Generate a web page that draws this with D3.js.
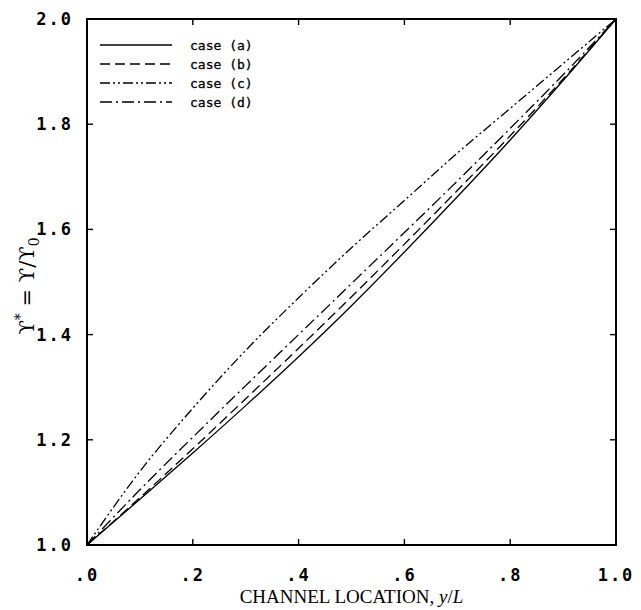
<!DOCTYPE html>
<html>
<head>
<meta charset="utf-8">
<script src="https://cdn.jsdelivr.net/npm/d3@7"></script>
<style>
  body { margin: 0; background: #fff; }
  svg { display: block; }
</style>
</head>
<body>
<svg id="chart"></svg>
<script>
// data
var xs     = [0.0, 0.1, 0.2, 0.3, 0.4, 0.5, 0.6, 0.7, 0.8, 0.9, 1.0];
var caseA  = [1.0, 1.087, 1.175, 1.265, 1.358, 1.455, 1.557, 1.662, 1.77, 1.883, 2.0];
var caseB  = [1.0, 1.09, 1.183, 1.278, 1.374, 1.472, 1.572, 1.674, 1.778, 1.886, 2.0];
var caseC  = [1.0, 1.14, 1.26, 1.37, 1.47, 1.565, 1.655, 1.745, 1.83, 1.915, 2.0];
var caseD  = [1.0, 1.105, 1.205, 1.303, 1.40, 1.497, 1.594, 1.692, 1.792, 1.894, 2.0];
var xTicks = [0, 0.2, 0.4, 0.6, 0.8, 1.0];
var xTickLabels = [".0", ".2", ".4", ".6", ".8", "1.0"];
var yTicks = [1.0, 1.2, 1.4, 1.6, 1.8, 2.0];
var legendNames = ["case (a)", "case (b)", "case (c)", "case (d)"];

var width = 641, height = 610;
var margin = {left: 87, right: 25, top: 19, bottom: 65};

var svg = d3.select('#chart')
    .attr('width', width)
    .attr('height', height);

var x = d3.scaleLinear().domain([0, 1]).range([margin.left, width - margin.right]);
var y = d3.scaleLinear().domain([1, 2]).range([height - margin.bottom, margin.top]);

var series = [
    {name: legendNames[0], vals: caseA, dash: null},
    {name: legendNames[1], vals: caseB, dash: "10,5"},
    {name: legendNames[2], vals: caseC, dash: "10,3,2,3,2,3"},
    {name: legendNames[3], vals: caseD, dash: "12,4,2,4"}
];

var tickFont = "'DejaVu Sans Mono', monospace";

// frame
svg.append('rect')
    .attr('x', x(0)).attr('y', y(2))
    .attr('width', x(1) - x(0)).attr('height', y(1) - y(2))
    .attr('fill', 'none').attr('stroke', '#000').attr('stroke-width', 2);

// inward ticks on all four sides
var tl = 6;
var g = svg.append('g').attr('stroke', '#000').attr('stroke-width', 1.4);
xTicks.slice(1, -1).forEach(function (t) {
    g.append('line').attr('x1', x(t)).attr('x2', x(t)).attr('y1', y(1)).attr('y2', y(1) - tl);
    g.append('line').attr('x1', x(t)).attr('x2', x(t)).attr('y1', y(2)).attr('y2', y(2) + tl);
});
yTicks.slice(1, -1).forEach(function (t) {
    g.append('line').attr('y1', y(t)).attr('y2', y(t)).attr('x1', x(0)).attr('x2', x(0) + tl);
    g.append('line').attr('y1', y(t)).attr('y2', y(t)).attr('x1', x(1)).attr('x2', x(1) - tl);
});

// tick labels
svg.append('g').selectAll('text')
    .data(xTicks)
    .enter().append('text')
    .attr('x', function (d) { return x(d); })
    .attr('y', y(1) + 36)
    .attr('text-anchor', 'middle')
    .style('font-family', tickFont).style('font-size', '17px').style('font-weight', 'bold')
    .style('letter-spacing', '2px')
    .text(function (d, i) { return xTickLabels[i]; });

svg.append('g').selectAll('text')
    .data(yTicks)
    .enter().append('text')
    .attr('x', x(0) - 14)
    .attr('y', function (d) { return y(d) + 6; })
    .attr('text-anchor', 'end')
    .style('font-family', tickFont).style('font-size', '17px').style('font-weight', 'bold')
    .style('letter-spacing', '2px')
    .text(function (d) { return d.toFixed(1); });

// axis titles
var xt = svg.append('text')
    .attr('x', (x(0) + x(1)) / 2).attr('y', 603)
    .attr('text-anchor', 'middle')
    .style('font-family', "'Liberation Serif', serif").style('font-size', '19px');
xt.append('tspan').text('CHANNEL LOCATION, ');
xt.append('tspan').style('font-style', 'italic').text('y');
xt.append('tspan').text('/');
xt.append('tspan').style('font-style', 'italic').text('L');

var yt = svg.append('text')
    .attr('transform', 'translate(34,' + (y(1.5) + 4) + ') rotate(-90)')
    .attr('text-anchor', 'middle')
    .style('font-family', "'DejaVu Serif', serif").style('font-size', '21px');
yt.append('tspan').text('\u03D2');
yt.append('tspan').attr('dy', -9).style('font-size', '14px').text('*');
yt.append('tspan').attr('dy', 9).text(' = \u03D2/\u03D2');
yt.append('tspan').attr('dy', 5).style('font-size', '14px').text('0');

// curves
var line = d3.line()
    .x(function (d, i) { return x(xs[i]); })
    .y(function (d) { return y(d); })
    .curve(d3.curveMonotoneX);

svg.append('g').selectAll('path')
    .data(series)
    .enter().append('path')
    .attr('d', function (d) { return line(d.vals); })
    .attr('fill', 'none')
    .attr('stroke', '#000')
    .attr('stroke-width', 1.3)
    .attr('stroke-dasharray', function (d) { return d.dash; });

// legend
var leg = svg.append('g').selectAll('g')
    .data(series)
    .enter().append('g')
    .attr('transform', function (d, i) { return 'translate(100,' + (45 + i * 19) + ')'; });
leg.append('line')
    .attr('x1', 0).attr('x2', 72).attr('y1', 0).attr('y2', 0)
    .attr('stroke', '#000').attr('stroke-width', 1.3)
    .attr('stroke-dasharray', function (d) { return d.dash; });
leg.append('text')
    .attr('x', 90).attr('y', 5)
    .style('font-family', tickFont).style('font-size', '13px')
    .style('stroke', '#000').style('stroke-width', 0.3)
    .text(function (d) { return d.name; });
</script>
</body>
</html>
